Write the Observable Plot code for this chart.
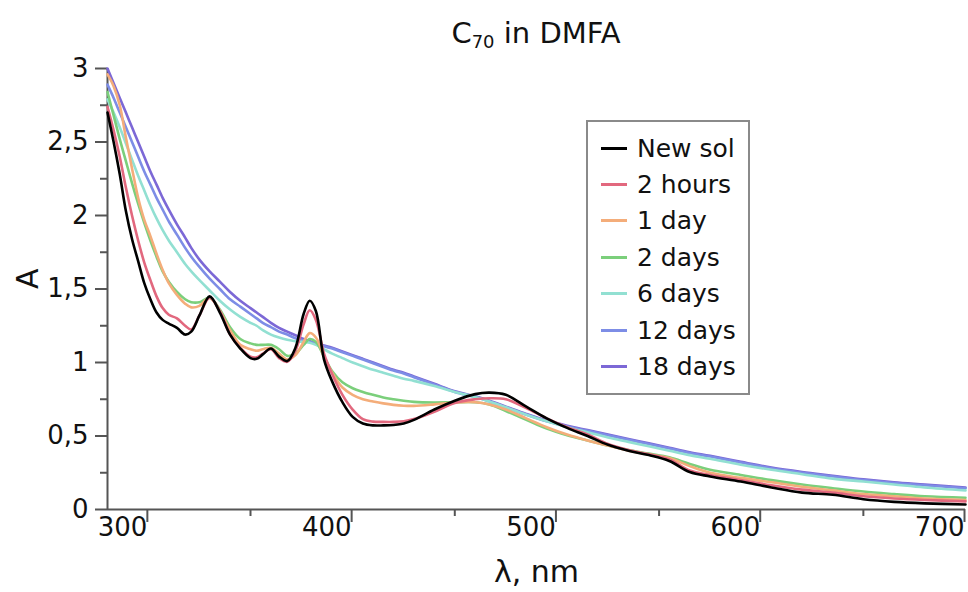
<!DOCTYPE html>
<html><head><meta charset="utf-8">
<script src="https://cdn.jsdelivr.net/npm/d3@7"></script>
<script src="https://cdn.jsdelivr.net/npm/@observablehq/plot@0.6"></script>
<style>
body{margin:0;background:#fff;font-family:"DejaVu Sans",sans-serif;}
#wrap{position:relative;width:968px;height:592px;overflow:hidden;}
#title{position:absolute;top:16px;left:107px;width:858px;text-align:center;font-size:29px;line-height:34px;color:#111;}
#title sub{font-size:0.62em;vertical-align:-0.3em;line-height:0;}
#legend{position:absolute;left:586px;top:120px;width:160px;padding:8px 0 8px 0;border:2px solid #8a8a8a;background:#fff;}
.row{display:flex;align-items:center;height:36.4px;font-size:25px;color:#111;}
.sw{width:26px;height:3px;margin-left:13px;margin-right:10px;}
</style></head>
<body><div id="wrap"><div id="title">C<sub>70</sub> in DMFA</div><div id="legend"></div></div>
<script>
const wavelengths = [280,283,286,289,292,295,298,301,304,307,310,314,318,321,325,330,335,340,345,350,353,356,360,364,368,372,376,379,382,386,390,395,400,405,410,415,420,425,430,440,450,460,467,475,485,495,505,515,525,535,545,555,565,575,590,605,620,635,650,665,680,700];
const seriesNames = ["New sol","2 hours","1 day","2 days","6 days","12 days","18 days"];
const seriesColors = ["#000000","#e2687e","#f4ad7a","#7bcf7b","#92e0d2","#7d8de6","#7c68d6"];
const newSol = [2.70,2.50,2.28,2.03,1.84,1.69,1.54,1.43,1.34,1.29,1.265,1.235,1.19,1.21,1.32,1.45,1.34,1.19,1.095,1.03,1.025,1.055,1.095,1.04,1.01,1.10,1.33,1.42,1.35,1.02,0.87,0.73,0.63,0.585,0.572,0.572,0.575,0.585,0.61,0.68,0.74,0.785,0.795,0.78,0.70,0.62,0.555,0.50,0.44,0.40,0.37,0.33,0.255,0.225,0.19,0.15,0.115,0.10,0.07,0.052,0.042,0.034];
const hours2 = [2.74,2.58,2.40,2.19,2.00,1.83,1.68,1.56,1.45,1.37,1.325,1.30,1.25,1.225,1.32,1.44,1.35,1.19,1.10,1.04,1.035,1.06,1.09,1.03,1.005,1.08,1.26,1.355,1.29,1.06,0.92,0.78,0.68,0.615,0.598,0.596,0.596,0.60,0.615,0.665,0.725,0.75,0.757,0.75,0.69,0.62,0.56,0.51,0.445,0.405,0.375,0.34,0.265,0.235,0.20,0.165,0.135,0.115,0.09,0.075,0.065,0.055];
const day1 = [2.96,2.88,2.75,2.53,2.32,2.12,1.97,1.86,1.74,1.63,1.54,1.46,1.40,1.375,1.385,1.44,1.35,1.22,1.12,1.09,1.08,1.09,1.10,1.06,1.02,1.05,1.14,1.20,1.17,1.04,0.93,0.83,0.78,0.75,0.735,0.722,0.712,0.706,0.705,0.715,0.728,0.73,0.715,0.68,0.62,0.56,0.51,0.47,0.435,0.40,0.375,0.35,0.295,0.25,0.215,0.185,0.155,0.13,0.105,0.09,0.075,0.065];
const days2 = [2.84,2.68,2.52,2.37,2.22,2.08,1.95,1.83,1.72,1.62,1.55,1.48,1.43,1.41,1.41,1.44,1.36,1.24,1.16,1.13,1.12,1.12,1.12,1.09,1.045,1.06,1.12,1.16,1.14,1.04,0.94,0.865,0.825,0.80,0.78,0.762,0.75,0.74,0.732,0.728,0.73,0.73,0.715,0.67,0.61,0.55,0.505,0.47,0.435,0.405,0.38,0.355,0.31,0.27,0.235,0.20,0.17,0.145,0.122,0.105,0.09,0.08];
const days6 = [2.79,2.70,2.60,2.49,2.38,2.27,2.17,2.07,1.98,1.90,1.83,1.75,1.67,1.62,1.56,1.49,1.42,1.36,1.31,1.27,1.25,1.22,1.19,1.17,1.155,1.145,1.14,1.135,1.12,1.09,1.06,1.03,1.00,0.975,0.95,0.93,0.91,0.89,0.875,0.84,0.80,0.765,0.735,0.695,0.645,0.60,0.56,0.525,0.49,0.46,0.43,0.40,0.37,0.345,0.305,0.27,0.24,0.21,0.19,0.17,0.15,0.13];
const days12 = [2.89,2.80,2.70,2.60,2.50,2.40,2.30,2.21,2.12,2.04,1.96,1.87,1.78,1.72,1.65,1.57,1.50,1.43,1.38,1.33,1.30,1.27,1.24,1.21,1.19,1.165,1.15,1.14,1.13,1.11,1.095,1.07,1.045,1.02,0.995,0.97,0.945,0.925,0.90,0.85,0.80,0.765,0.735,0.695,0.645,0.60,0.565,0.535,0.505,0.475,0.445,0.415,0.385,0.36,0.32,0.28,0.25,0.225,0.20,0.18,0.165,0.145];
const days18 = [3.00,2.90,2.80,2.70,2.60,2.50,2.40,2.30,2.21,2.12,2.04,1.94,1.85,1.78,1.70,1.62,1.55,1.48,1.42,1.37,1.34,1.31,1.27,1.235,1.21,1.185,1.16,1.145,1.13,1.115,1.10,1.075,1.05,1.025,1.00,0.975,0.95,0.93,0.905,0.855,0.805,0.77,0.74,0.70,0.65,0.605,0.57,0.54,0.51,0.48,0.45,0.42,0.39,0.365,0.325,0.285,0.255,0.23,0.205,0.185,0.17,0.15];
const yMajorTicks = [0,0.5,1,1.5,2,2.5,3];
const yMinorTicks = [0.25,0.75,1.25,1.75,2.25,2.75];
const xMajorTicks = [300,400,500,600,700];
const xMinorTicks = [350,450,550,650];

const allSeries = [newSol,hours2,day1,days2,days6,days12,days18];
const table = [];
for (let s = allSeries.length - 1; s >= 0; s--) {
  wavelengths.forEach((w,i) => table.push({series: seriesNames[s], wl: w, A: allSeries[s][i]}));
}
const comma = d => String(d).replace(".", ",");
const axisColor = "#555";

const chart = Plot.plot({
  width: 968, height: 592,
  marginTop: 68, marginBottom: 83, marginLeft: 107, marginRight: 3,
  style: {fontFamily: "DejaVu Sans", fontSize: "26px", color: "#111", background: "white", overflow: "visible"},
  x: {domain: [280, 700]},
  y: {domain: [0, 3]},
  color: {domain: seriesNames, range: seriesColors},
  marks: [
    Plot.axisY(yMajorTicks, {tickSize: 12, tickPadding: 7, tickFormat: comma, stroke: axisColor, strokeWidth: 2, label: null, fontSize: 26}),
    Plot.axisY(yMinorTicks, {tickSize: 7, tickFormat: () => "", stroke: axisColor, strokeWidth: 2, label: null}),
    Plot.axisX(xMajorTicks, {tickSize: 13, tickPadding: -5, tickFormat: d => String(d), textAnchor: "end", dx: -1, stroke: axisColor, strokeWidth: 2, label: null, fontSize: 26}),
    Plot.axisX(xMinorTicks, {tickSize: 7, tickFormat: () => "", stroke: axisColor, strokeWidth: 2, label: null}),
    Plot.ruleX([280], {stroke: axisColor, strokeWidth: 2}),
    Plot.ruleY([0], {stroke: axisColor, strokeWidth: 2}),
    Plot.line(table, {x: "wl", y: "A", z: "series", stroke: "series", strokeWidth: 2.6, curve: "catmull-rom"}),
    Plot.text(["A"], {text: d => d, frameAnchor: "left", dx: -79, rotate: -90, fontSize: 30, fill: "#111"}),
    Plot.text(["λ, nm"], {text: d => d, frameAnchor: "bottom", dy: 72, fontSize: 30, fill: "#111"})
  ]
});
document.getElementById("wrap").prepend(chart);

const legend = document.getElementById("legend");
seriesNames.forEach((n, i) => {
  const row = document.createElement("div");
  row.className = "row";
  row.innerHTML = `<span class="sw" style="background:${seriesColors[i]}"></span><span>${n}</span>`;
  legend.appendChild(row);
});
</script></body></html>
